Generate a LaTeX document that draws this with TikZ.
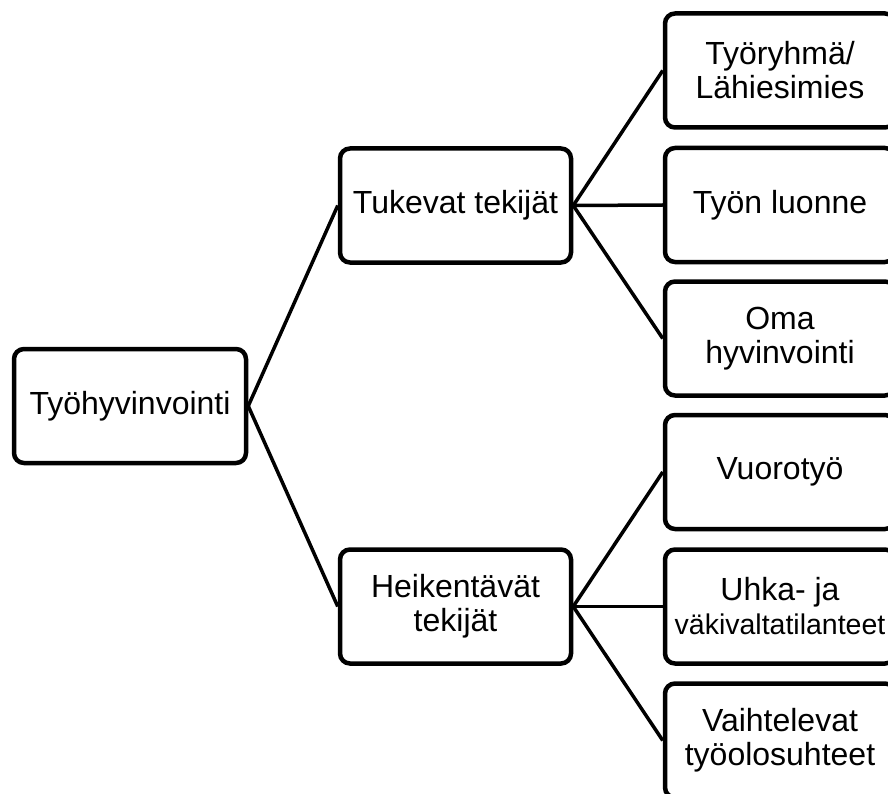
\documentclass[tikz,border=0pt]{standalone}
\usepackage{fontspec}
\setmainfont{Liberation Sans}
\begin{document}
\begin{tikzpicture}[x=1pt,y=-1pt,
  box/.style={draw=black, line width=4.5pt, rounded corners=10pt, fill=white,
    minimum width=231pt, minimum height=114pt, inner sep=0pt, align=center,
    font=\fontsize{32}{34}\selectfont},
  rbox/.style={box, minimum width=230pt},
  link/.style={draw=black, line width=3.5pt}]
\useasboundingbox (0,0) rectangle (888,794);
\clip (0,0) rectangle (888,794);
\fill[white] (0,0) rectangle (888,794);
\node[box, minimum width=232pt] (root) at (130,406) {Työhyvinvointi};
\node[box] (tuk) at (455.5,205.5) {Tukevat tekijät};
\node[box] (hei) at (455.5,606.5) {Heikentävät\\tekijät};
\node[rbox] (r1) at (780,70.5) {Työryhmä/\\Lähiesimies};
\node[rbox] (r2) at (780,205) {Työn luonne};
\node[rbox] (r3) at (780,338.5) {Oma\\hyvinvointi};
\node[rbox] (r4) at (780,472) {Vuorotyö};
\node[rbox] (r5) at (780,606.5) {Uhka- ja\\{\fontsize{28.5}{34}\selectfont väkivaltatilanteet}};
\node[rbox] (r6) at (780,740.5) {Vaihtelevat\\työolosuhteet};
\draw[link] (root.east) -- (tuk.west);
\draw[link] (root.east) -- (hei.west);
\draw[link] (tuk.east) -- (r1.west);
\draw[link] (tuk.east) -- (r2.west);
\draw[link] (tuk.east) -- (r3.west);
\draw[link] (hei.east) -- (r4.west);
\draw[link] (hei.east) -- (r5.west);
\draw[link] (hei.east) -- (r6.west);
\end{tikzpicture}
\end{document}
